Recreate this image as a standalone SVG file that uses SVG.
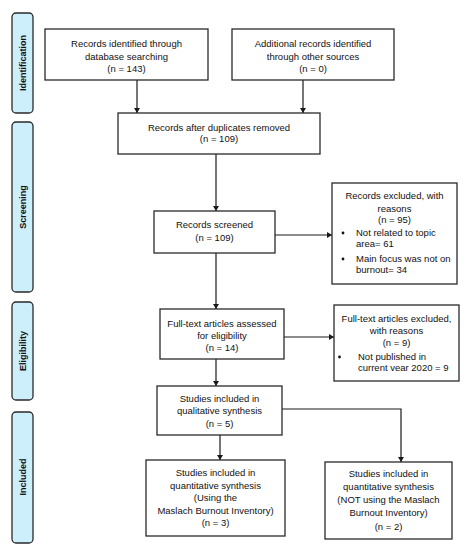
<svg xmlns="http://www.w3.org/2000/svg" width="467" height="550" viewBox="0 0 467 550">
<defs>
<marker id="ah" markerWidth="6" markerHeight="6" refX="5" refY="3" orient="auto" markerUnits="userSpaceOnUse">
<path d="M0,0 L5,3 L0,6 Z" fill="#1a1a1a"/>
</marker>
<style>
.box{fill:#fff;stroke:#2a2a2a;stroke-width:1.3}
.side{fill:#cdeefb;stroke:#2a2a2a;stroke-width:1.3}
.t{font-family:"Liberation Sans",Arial,sans-serif;font-size:9.5px;fill:#111;text-anchor:middle}
.l{font-family:"Liberation Sans",Arial,sans-serif;font-size:9.5px;fill:#111}
.s{font-family:"Liberation Sans",Arial,sans-serif;font-size:9px;font-weight:bold;fill:#111;text-anchor:middle}
.c{fill:none;stroke:#1a1a1a;stroke-width:1.2;marker-end:url(#ah)}
</style>
</defs>
<rect width="467" height="550" fill="#fff"/>
<g id="side-identification"><rect class="side" x="12" y="13" width="21" height="100" rx="4"/><text class="s" transform="translate(25.5,63) rotate(-90)">Identification</text></g>
<g id="side-screening"><rect class="side" x="12" y="122" width="21" height="170" rx="4"/><text class="s" transform="translate(25.5,207) rotate(-90)">Screening</text></g>
<g id="side-eligibility"><rect class="side" x="12" y="302" width="21" height="98" rx="4"/><text class="s" transform="translate(25.5,351) rotate(-90)">Eligibility</text></g>
<g id="side-included"><rect class="side" x="12" y="412" width="21" height="131" rx="4"/><text class="s" transform="translate(25.5,477) rotate(-90)">Included</text></g>

<g id="connectors">
<path class="c" d="M137,80 V113"/>
<path class="c" d="M303,80 V113"/>
<path class="c" d="M216,154 V211"/>
<path class="c" d="M275,235 H332"/>
<path class="c" d="M216,253 V309"/>
<path class="c" d="M284,337 H334"/>
<path class="c" d="M216,359 V386"/>
<path class="c" d="M220,435 V460"/>
<path class="c" d="M282,409 H401 V462"/>
</g>

<g id="n1"><rect class="box" x="45" y="29" width="163" height="51"/>
<text class="t" x="126.5" y="47">Records identified through</text>
<text class="t" x="126.5" y="60">database searching</text>
<text class="t" x="126.5" y="72">(n = 143)</text></g>

<g id="n2"><rect class="box" x="232" y="29" width="162" height="51"/>
<text class="t" x="313" y="47">Additional records identified</text>
<text class="t" x="313" y="60">through other sources</text>
<text class="t" x="313" y="72">(n = 0)</text></g>

<g id="n3"><rect class="box" x="118" y="113" width="202" height="41"/>
<text class="t" x="219" y="131">Records after duplicates removed</text>
<text class="t" x="219" y="142">(n = 109)</text></g>

<g id="n4"><rect class="box" x="154" y="211" width="121" height="42"/>
<text class="t" x="214.5" y="228">Records screened</text>
<text class="t" x="214.5" y="241">(n = 109)</text></g>

<g id="n5"><rect class="box" x="332" y="183" width="125" height="101"/>
<text class="t" x="394.5" y="199">Records excluded, with</text>
<text class="t" x="394.5" y="212">reasons</text>
<text class="t" x="394.5" y="223">(n = 95)</text>
<circle cx="343" cy="233" r="1.4" fill="#111"/>
<text class="l" x="356" y="236">Not related to topic</text>
<text class="l" x="356" y="247">area= 61</text>
<circle cx="343" cy="259" r="1.4" fill="#111"/>
<text class="l" x="356" y="262">Main focus was not on</text>
<text class="l" x="356" y="273">burnout= 34</text></g>

<g id="n6"><rect class="box" x="160" y="309" width="124" height="50"/>
<text class="t" x="222" y="327">Full-text articles assessed</text>
<text class="t" x="222" y="339">for eligibility</text>
<text class="t" x="222" y="351">(n = 14)</text></g>

<g id="n7"><rect class="box" x="334" y="305" width="125" height="76"/>
<text class="t" x="396.5" y="322">Full-text articles excluded,</text>
<text class="t" x="396.5" y="334">with reasons</text>
<text class="t" x="396.5" y="346">(n = 9)</text>
<circle cx="339.5" cy="357" r="1.4" fill="#111"/>
<text class="l" x="358" y="360">Not published in</text>
<text class="l" x="358" y="371">current vear 2020 = 9</text></g>

<g id="n8"><rect class="box" x="157" y="386" width="125" height="49"/>
<text class="t" x="219.5" y="402">Studies included in</text>
<text class="t" x="219.5" y="414">qualitative synthesis</text>
<text class="t" x="219.5" y="427">(n = 5)</text></g>

<g id="n9"><rect class="box" x="146" y="460" width="139" height="76"/>
<text class="t" x="215.5" y="476">Studies included in</text>
<text class="t" x="215.5" y="489">quantitative synthesis</text>
<text class="t" x="215.5" y="501">(Using the</text>
<text class="t" x="215.5" y="514">Maslach Burnout Inventory)</text>
<text class="t" x="215.5" y="526">(n = 3)</text></g>

<g id="n10"><rect class="box" x="325" y="462" width="127" height="77"/>
<text class="t" x="388.5" y="477">Studies included in</text>
<text class="t" x="388.5" y="490">quantitative synthesis</text>
<text class="t" x="388.5" y="503">(NOT using the Maslach</text>
<text class="t" x="388.5" y="516">Burnout Inventory)</text>
<text class="t" x="388.5" y="530">(n = 2)</text></g>
</svg>
